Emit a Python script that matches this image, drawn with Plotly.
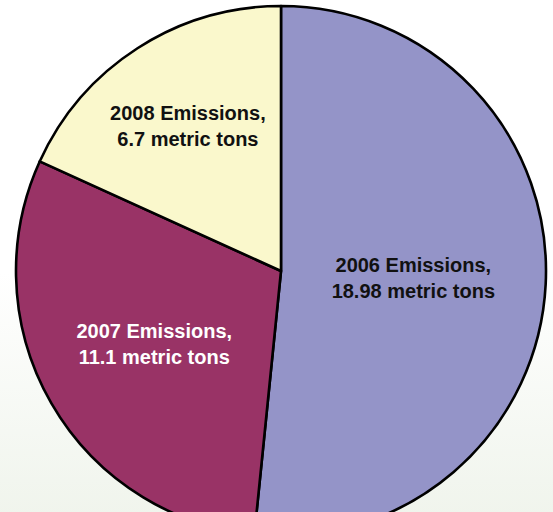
import plotly.graph_objects as go

categories = ["2006 Emissions", "2007 Emissions", "2008 Emissions"]
values = [18.98, 11.1, 6.7]
value_labels = ["18.98", "11.1", "6.7"]
slice_colors = ["#9494C8", "#993366", "#FAF8CC"]
text_colors = ["#111111", "#FFFFFF", "#111111"]

texts = [f"{c},<br>{v} metric tons" for c, v in zip(categories, value_labels)]

W, H = 553, 545
ML, MR, MT, MB = 16, 7, 6, 9
PW, PH = W - ML - MR, H - MT - MB

bg_svg = (
    "data:image/svg+xml;utf8,"
    "<svg xmlns='http://www.w3.org/2000/svg' width='553' height='545' preserveAspectRatio='none'>"
    "<defs><linearGradient id='g' x1='0' y1='0' x2='0' y2='1'>"
    "<stop offset='0' stop-color='%23FFFFFF'/>"
    "<stop offset='0.5' stop-color='%23FFFFFF'/>"
    "<stop offset='1' stop-color='%23EEF3EA'/>"
    "</linearGradient></defs>"
    "<rect width='553' height='545' fill='url(%23g)'/></svg>"
)

fig = go.Figure(
    go.Pie(
        labels=categories,
        values=values,
        text=texts,
        textinfo="text",
        hoverinfo="label+value",
        sort=False,
        direction="clockwise",
        rotation=0,
        marker=dict(colors=slice_colors, line=dict(color="#000000", width=2.6)),
        textposition="inside",
        insidetextorientation="horizontal",
        insidetextfont=dict(family="Arial, Liberation Sans, sans-serif", size=20,
                            color=text_colors, weight="bold"),
        showlegend=False,
    )
)

fig.update_layout(
    width=W,
    height=H,
    margin=dict(l=ML, r=MR, t=MT, b=MB),
    paper_bgcolor="#FFFFFF",
    plot_bgcolor="#FFFFFF",
    uniformtext=dict(minsize=20, mode="show"),
    images=[dict(source=bg_svg, xref="paper", yref="paper",
                 x=-ML / PW, y=1 + MT / PH,
                 sizex=W / PW, sizey=H / PH, sizing="stretch", layer="below",
                 xanchor="left", yanchor="top")],
)

fig.write_html(
    "out.html",
    config={"displayModeBar": False},
    post_script=(
        "document.body.style.margin='0';"
        "document.body.style.overflow='hidden';"
        "document.documentElement.style.overflow='hidden';"
    ),
)
